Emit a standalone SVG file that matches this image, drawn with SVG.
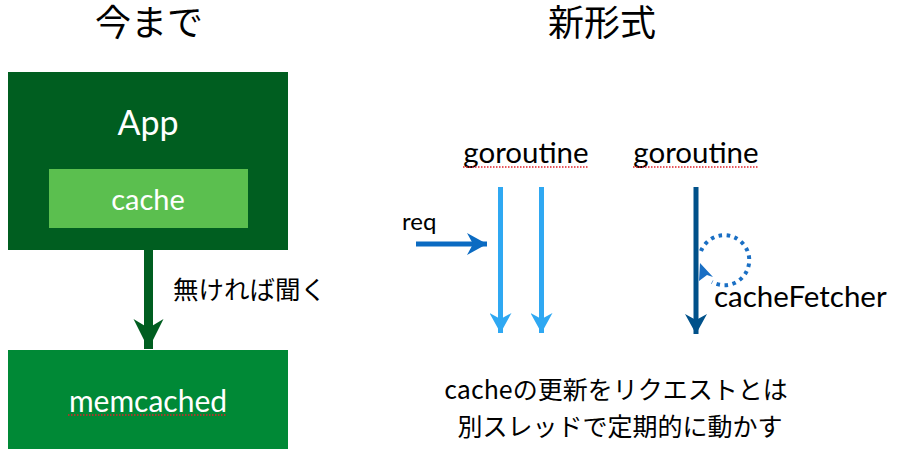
<svg xmlns="http://www.w3.org/2000/svg" width="897" height="461" viewBox="0 0 897 461">
<style>
.jp{font-family:"Noto Sans CJK JP","Noto Sans",sans-serif;fill:#000}
.tt{font-family:"Liberation Sans","Noto Sans CJK JP",sans-serif;fill:#000}
.lat{font-family:Lato,"Liberation Sans",sans-serif}
.w{fill:#fff}
.sq{stroke:#e0202a;stroke-width:1.5;stroke-dasharray:1.5 1.5;fill:none}
</style>
<defs>
<marker id="hg" viewBox="0 0 30 32" refX="30" refY="16" markerWidth="30" markerHeight="32" markerUnits="userSpaceOnUse" orient="auto"><path d="M0 1 L30 16 L0 31 L9 16 Z" fill="#005E20"/></marker>
<marker id="hl" viewBox="0 0 20 22" refX="20" refY="11" markerWidth="20" markerHeight="22" markerUnits="userSpaceOnUse" orient="auto"><path d="M0 0 L20 11 L0 22 L6 11 Z" fill="#2FA8F2"/></marker>
<marker id="hr" viewBox="0 0 20 22" refX="20" refY="11" markerWidth="20" markerHeight="22" markerUnits="userSpaceOnUse" orient="auto"><path d="M0 0 L20 11 L0 22 L6 11 Z" fill="#0B6BC2"/></marker>
<marker id="hd" viewBox="0 0 20 22" refX="20" refY="11" markerWidth="20" markerHeight="22" markerUnits="userSpaceOnUse" orient="auto"><path d="M0 0 L20 11 L0 22 L6 11 Z" fill="#00518A"/></marker>
</defs>
<rect width="897" height="461" fill="#fff"/>
<g id="titles">
<text class="tt" x="149" y="36" font-size="36" text-anchor="middle">今まで</text>
<text class="tt" x="602" y="36" font-size="36" text-anchor="middle">新形式</text>
</g>
<g id="app">
<rect x="8" y="72" width="280" height="178" fill="#005E20"/>
<text class="lat w" x="148" y="135" font-size="34" text-anchor="middle">App</text>
</g>
<g id="cache">
<rect x="49" y="169" width="199" height="59" fill="#5BBF4F"/>
<text class="lat w" x="148" y="210" font-size="29" text-anchor="middle">cache</text>
</g>
<g id="memcached">
<rect x="8" y="350" width="280" height="99" fill="#008936"/>
<text class="lat w" x="148" y="412" font-size="30" text-anchor="middle">memcached</text>
<line class="sq" x1="68" y1="415" x2="227" y2="415"/>
</g>
<g id="goroutine1">
<text class="lat" x="526" y="163" font-size="29.5" text-anchor="middle">goroutine</text>
<line class="sq" x1="463" y1="167" x2="589" y2="167"/>
</g>
<g id="goroutine2">
<text class="lat" x="696" y="163" font-size="29.5" text-anchor="middle">goroutine</text>
<line class="sq" x1="633" y1="167" x2="759" y2="167"/>
</g>
<g id="labels">
<text class="jp" x="173" y="299" font-size="25.5">無ければ聞く</text>
<text class="lat" x="402" y="230" font-size="24">req</text>
<text class="lat" x="714" y="307" font-size="29.5">cacheFetcher</text>
<text class="jp" x="616" y="399" font-size="25" text-anchor="middle">cacheの更新をリクエストとは</text>
<text class="jp" x="620" y="436" font-size="25" text-anchor="middle">別スレッドで定期的に動かす</text>
</g>
<g id="connectors" fill="none">
<line x1="148.5" y1="250" x2="148.5" y2="349" stroke="#005E20" stroke-width="9" marker-end="url(#hg)"/>
<line x1="500.5" y1="187" x2="500.5" y2="333" stroke="#2FA8F2" stroke-width="5" marker-end="url(#hl)"/>
<line x1="541.5" y1="187" x2="541.5" y2="333" stroke="#2FA8F2" stroke-width="5" marker-end="url(#hl)"/>
<line x1="416" y1="244" x2="487" y2="244" stroke="#0B6BC2" stroke-width="5" marker-end="url(#hr)"/>
<line x1="696" y1="187" x2="696" y2="334" stroke="#00518A" stroke-width="5" marker-end="url(#hd)"/>
<path d="M701 251 A25 25 0 1 1 712 282" stroke="#1A6FC4" stroke-width="4" stroke-dasharray="3.5 4.5"/>
<path d="M700 263 L713 277 L707 275 L699 281 Z" fill="#1A6FC4"/>
</g>
</svg>
